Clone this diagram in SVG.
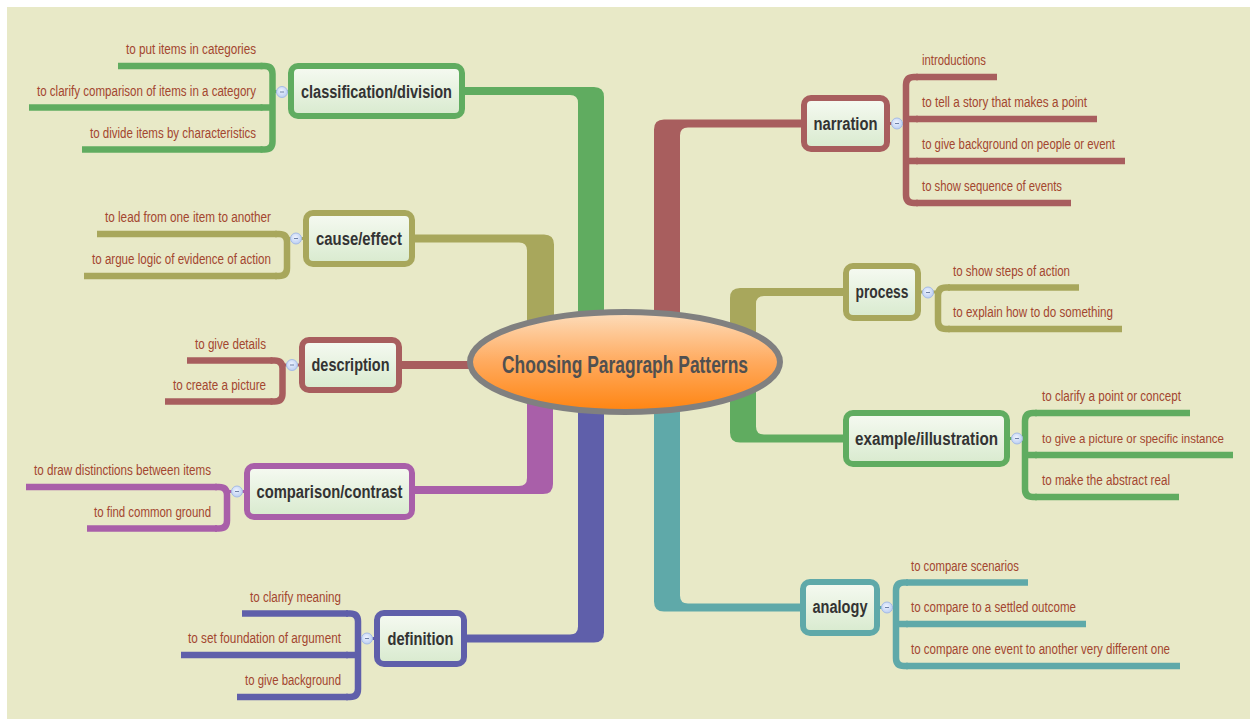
<svg xmlns="http://www.w3.org/2000/svg" width="1250" height="719" viewBox="0 0 1250 719">
<defs>
<linearGradient id="nodeFill" x1="0" y1="0" x2="0" y2="1"><stop offset="0" stop-color="#F6FAF2"/><stop offset="1" stop-color="#D8EACE"/></linearGradient>
<linearGradient id="centerFill" x1="0" y1="0" x2="0" y2="1"><stop offset="0" stop-color="#FDDDBC"/><stop offset="0.5" stop-color="#FFAA5E"/><stop offset="1" stop-color="#FF8410"/></linearGradient>
<radialGradient id="btnFill" cx="0.45" cy="0.4" r="0.6"><stop offset="0" stop-color="#EEF3FE"/><stop offset="1" stop-color="#BBCEF2"/></radialGradient>
</defs>
<style>
.sub{font-family:"Liberation Sans",Arial,sans-serif;font-size:14px;fill:#A3462F}
.end{text-anchor:end}
.lbl{font-family:"Liberation Sans",Arial,sans-serif;font-size:18px;font-weight:bold;fill:#333333;text-anchor:middle}
.box{fill:url(#nodeFill);stroke-width:6}
.ul{stroke-width:6.5;fill:none;stroke-linecap:butt}
.br{stroke-width:6.5;fill:none}
.lk{stroke-width:3}
.btn{fill:url(#btnFill);stroke:#A6BCE6;stroke-width:1}
.btnm{stroke:#6F82A8;stroke-width:1}
.gF{fill:#60AC60}.gS{stroke:#60AC60}
.rF{fill:#A85E5E}.rS{stroke:#A85E5E}
.oF{fill:#A8A75C}.oS{stroke:#A8A75C}
.pF{fill:#A95FA9}.pS{stroke:#A95FA9}
.iF{fill:#5F5FAA}.iS{stroke:#5F5FAA}
.tF{fill:#5FA9A9}.tS{stroke:#5FA9A9}
</style>
<rect x="0" y="0" width="1250" height="719" fill="#FFFFFF"/>
<rect x="7" y="7" width="1243" height="712" fill="#E8E9C7"/>

<g id="connectors">
<path class="gF" d="M 462 87 H 594 Q 604 87 604 97 V 340 H 578 V 103 Q 578 95 570 95 H 462 Z"/>
<path class="oF" d="M 412 234.5 H 544 Q 554 234.5 554 244.5 V 340 H 527 V 250.5 Q 527 242.5 519 242.5 H 412 Z"/>
<rect class="rF" x="399" y="361" width="85" height="8"/>
<path class="pF" d="M 412 486 H 519 Q 527 486 527 478 V 380 H 553 V 484 Q 553 494 543 494 H 412 Z"/>
<path class="iF" d="M 464 634.5 H 570 Q 578 634.5 578 626.5 V 380 H 604 V 632.5 Q 604 642.5 594 642.5 H 464 Z"/>
<path class="rF" d="M 806 119.5 H 664 Q 654 119.5 654 129.5 V 340 H 680 V 135.5 Q 680 127.5 688 127.5 H 806 Z"/>
<path class="oF" d="M 848 288 H 740 Q 730 288 730 298 V 345 H 756 V 304 Q 756 296 764 296 H 848 Z"/>
<path class="gF" d="M 848 434.5 H 764 Q 756 434.5 756 426.5 V 380 H 730 V 432.5 Q 730 442.5 740 442.5 H 848 Z"/>
<path class="tF" d="M 806 603.5 H 688 Q 680 603.5 680 595.5 V 380 H 654 V 601.5 Q 654 611.5 664 611.5 H 806 Z"/>

<path class="br gS" d="M 260.5 66 H 264.5 Q 272.5 66 272.5 74 V 141.5 Q 272.5 149.5 264.5 149.5 H 260.5 M 260.5 107.5 H 272.5"/>
<line class="lk gS" x1="272.5" y1="91.5" x2="292" y2="91.5"/>
<path class="br oS" d="M 275 234 H 279 Q 287 234 287 242 V 268 Q 287 276 279 276 H 275"/>
<line class="lk oS" x1="287" y1="238.5" x2="307" y2="238.5"/>
<path class="br rS" d="M 270.5 360.5 H 274.5 Q 282.5 360.5 282.5 368.5 V 393.5 Q 282.5 401.5 274.5 401.5 H 270.5"/>
<line class="lk rS" x1="282.5" y1="365" x2="303" y2="365"/>
<path class="br pS" d="M 215 487 H 219 Q 227 487 227 495 V 520.5 Q 227 528.5 219 528.5 H 215"/>
<line class="lk pS" x1="227" y1="491.5" x2="248" y2="491.5"/>
<path class="br iS" d="M 346 613.5 H 350 Q 358 613.5 358 621.5 V 689 Q 358 697 350 697 H 346 M 346 655 H 358"/>
<line class="lk iS" x1="358" y1="638.5" x2="378" y2="638.5"/>
<path class="br rS" d="M 918 77 H 914 Q 906 77 906 85 V 195 Q 906 203 914 203 H 918 M 906 119 H 918 M 906 161 H 918"/>
<line class="lk rS" x1="886" y1="123.5" x2="906" y2="123.5"/>
<path class="br oS" d="M 950 287.5 H 946 Q 938 287.5 938 295.5 V 321 Q 938 329 946 329 H 950"/>
<line class="lk oS" x1="917" y1="292" x2="938" y2="292"/>
<path class="br gS" d="M 1037 413 H 1033 Q 1025 413 1025 421 V 489 Q 1025 497 1033 497 H 1037 M 1025 455 H 1037"/>
<line class="lk gS" x1="1006" y1="438.5" x2="1025" y2="438.5"/>
<path class="br tS" d="M 908 582.5 H 904 Q 896 582.5 896 590.5 V 658 Q 896 666 904 666 H 908 M 896 624 H 908"/>
<line class="lk tS" x1="876" y1="607.5" x2="896" y2="607.5"/>
</g>

<g id="center">
<ellipse cx="625" cy="362" rx="155" ry="50" fill="url(#centerFill)" stroke="#808080" stroke-width="6"/>
<text x="625" y="372.5" text-anchor="middle" font-family="Liberation Sans, Arial, sans-serif" font-size="23" font-weight="bold" fill="#505050" textLength="246" lengthAdjust="spacingAndGlyphs">Choosing Paragraph Patterns</text>
</g>

<g id="classification">
<rect class="box gS" x="291" y="66" width="171" height="50" rx="7"/>
<text class="lbl" x="376.5" y="97.5" textLength="151" lengthAdjust="spacingAndGlyphs">classification/division</text>
<circle class="btn" cx="282" cy="92" r="5.5"/><line class="btnm" x1="280" y1="92" x2="284" y2="92"/>
</g>
<g id="cls-1"><line class="ul gS" x1="118" y1="66" x2="262.5" y2="66"/><text class="sub end" x="256" y="54" textLength="130" lengthAdjust="spacingAndGlyphs">to put items in categories</text></g>
<g id="cls-2"><line class="ul gS" x1="29" y1="107.5" x2="262.5" y2="107.5"/><text class="sub end" x="256" y="95.5" textLength="219" lengthAdjust="spacingAndGlyphs">to clarify comparison of items in a category</text></g>
<g id="cls-3"><line class="ul gS" x1="82" y1="149.5" x2="262.5" y2="149.5"/><text class="sub end" x="256" y="137.5" textLength="166" lengthAdjust="spacingAndGlyphs">to divide items by characteristics</text></g>

<g id="cause-effect">
<rect class="box oS" x="306" y="213" width="106" height="51" rx="7"/>
<text class="lbl" x="359" y="244.5" textLength="86" lengthAdjust="spacingAndGlyphs">cause/effect</text>
<circle class="btn" cx="296" cy="238.5" r="5.5"/><line class="btnm" x1="294" y1="238.5" x2="298" y2="238.5"/>
</g>
<g id="cau-1"><line class="ul oS" x1="97" y1="234" x2="277" y2="234"/><text class="sub end" x="271" y="222" textLength="166" lengthAdjust="spacingAndGlyphs">to lead from one item to another</text></g>
<g id="cau-2"><line class="ul oS" x1="84" y1="276" x2="277" y2="276"/><text class="sub end" x="271" y="264" textLength="179" lengthAdjust="spacingAndGlyphs">to argue logic of evidence of action</text></g>

<g id="description">
<rect class="box rS" x="302" y="340" width="97" height="50" rx="7"/>
<text class="lbl" x="350.5" y="371" textLength="78" lengthAdjust="spacingAndGlyphs">description</text>
<circle class="btn" cx="292" cy="365" r="5.5"/><line class="btnm" x1="290" y1="365" x2="294" y2="365"/>
</g>
<g id="des-1"><line class="ul rS" x1="187" y1="360.5" x2="272.5" y2="360.5"/><text class="sub end" x="266" y="348.5" textLength="71" lengthAdjust="spacingAndGlyphs">to give details</text></g>
<g id="des-2"><line class="ul rS" x1="165" y1="401.5" x2="272.5" y2="401.5"/><text class="sub end" x="266" y="389.5" textLength="93" lengthAdjust="spacingAndGlyphs">to create a picture</text></g>

<g id="comparison">
<rect class="box pS" x="247" y="466" width="165" height="51" rx="7"/>
<text class="lbl" x="329.5" y="497.5" textLength="146" lengthAdjust="spacingAndGlyphs">comparison/contrast</text>
<circle class="btn" cx="237" cy="491.5" r="5.5"/><line class="btnm" x1="235" y1="491.5" x2="239" y2="491.5"/>
</g>
<g id="cmp-1"><line class="ul pS" x1="26" y1="487" x2="217" y2="487"/><text class="sub end" x="211" y="475" textLength="177" lengthAdjust="spacingAndGlyphs">to draw distinctions between items</text></g>
<g id="cmp-2"><line class="ul pS" x1="87" y1="528.5" x2="217" y2="528.5"/><text class="sub end" x="211" y="516.5" textLength="117" lengthAdjust="spacingAndGlyphs">to find common ground</text></g>

<g id="definition">
<rect class="box iS" x="377" y="613" width="87" height="51" rx="7"/>
<text class="lbl" x="420.5" y="644.5" textLength="66" lengthAdjust="spacingAndGlyphs">definition</text>
<circle class="btn" cx="367" cy="638.5" r="5.5"/><line class="btnm" x1="365" y1="638.5" x2="369" y2="638.5"/>
</g>
<g id="def-1"><line class="ul iS" x1="242" y1="613.5" x2="348" y2="613.5"/><text class="sub end" x="341" y="601.5" textLength="91" lengthAdjust="spacingAndGlyphs">to clarify meaning</text></g>
<g id="def-2"><line class="ul iS" x1="181" y1="655" x2="348" y2="655"/><text class="sub end" x="341" y="643" textLength="153" lengthAdjust="spacingAndGlyphs">to set foundation of argument</text></g>
<g id="def-3"><line class="ul iS" x1="237" y1="697" x2="348" y2="697"/><text class="sub end" x="341" y="685" textLength="96" lengthAdjust="spacingAndGlyphs">to give background</text></g>

<g id="narration">
<rect class="box rS" x="804" y="98" width="83" height="51" rx="7"/>
<text class="lbl" x="845.5" y="129.5" textLength="64" lengthAdjust="spacingAndGlyphs">narration</text>
<circle class="btn" cx="897" cy="123.5" r="5.5"/><line class="btnm" x1="895" y1="123.5" x2="899" y2="123.5"/>
</g>
<g id="nar-1"><line class="ul rS" x1="916" y1="77" x2="997" y2="77"/><text class="sub" x="922" y="65" textLength="64" lengthAdjust="spacingAndGlyphs">introductions</text></g>
<g id="nar-2"><line class="ul rS" x1="916" y1="119" x2="1097" y2="119"/><text class="sub" x="922" y="107" textLength="165" lengthAdjust="spacingAndGlyphs">to tell a story that makes a point</text></g>
<g id="nar-3"><line class="ul rS" x1="916" y1="161" x2="1125" y2="161"/><text class="sub" x="922" y="149" textLength="193" lengthAdjust="spacingAndGlyphs">to give background on people or event</text></g>
<g id="nar-4"><line class="ul rS" x1="916" y1="203" x2="1071" y2="203"/><text class="sub" x="922" y="191" textLength="140" lengthAdjust="spacingAndGlyphs">to show sequence of events</text></g>

<g id="process">
<rect class="box oS" x="846" y="266" width="72" height="52" rx="7"/>
<text class="lbl" x="882" y="298" textLength="53" lengthAdjust="spacingAndGlyphs">process</text>
<circle class="btn" cx="928" cy="292.5" r="5.5"/><line class="btnm" x1="926" y1="292.5" x2="930" y2="292.5"/>
</g>
<g id="pro-1"><line class="ul oS" x1="948" y1="287.5" x2="1079" y2="287.5"/><text class="sub" x="953" y="275.5" textLength="117" lengthAdjust="spacingAndGlyphs">to show steps of action</text></g>
<g id="pro-2"><line class="ul oS" x1="948" y1="329" x2="1122" y2="329"/><text class="sub" x="953" y="317" textLength="160" lengthAdjust="spacingAndGlyphs">to explain how to do something</text></g>

<g id="example">
<rect class="box gS" x="846" y="413" width="161" height="51" rx="7"/>
<text class="lbl" x="926.5" y="444.5" textLength="143" lengthAdjust="spacingAndGlyphs">example/illustration</text>
<circle class="btn" cx="1017" cy="438.5" r="5.5"/><line class="btnm" x1="1015" y1="438.5" x2="1019" y2="438.5"/>
</g>
<g id="ex-1"><line class="ul gS" x1="1035" y1="413" x2="1190" y2="413"/><text class="sub" x="1042" y="401" textLength="139" lengthAdjust="spacingAndGlyphs">to clarify a point or concept</text></g>
<g id="ex-2"><line class="ul gS" x1="1035" y1="455" x2="1233" y2="455"/><text class="sub" x="1042" y="443" font-size="13" textLength="182" lengthAdjust="spacingAndGlyphs" style="font-size:13px">to give a picture or specific instance</text></g>
<g id="ex-3"><line class="ul gS" x1="1035" y1="497" x2="1179" y2="497"/><text class="sub" x="1042" y="485" textLength="128" lengthAdjust="spacingAndGlyphs">to make the abstract real</text></g>

<g id="analogy">
<rect class="box tS" x="803" y="582" width="74" height="51" rx="7"/>
<text class="lbl" x="840" y="612.5" textLength="55" lengthAdjust="spacingAndGlyphs">analogy</text>
<circle class="btn" cx="887" cy="607.5" r="5.5"/><line class="btnm" x1="885" y1="607.5" x2="889" y2="607.5"/>
</g>
<g id="ana-1"><line class="ul tS" x1="906" y1="582.5" x2="1028" y2="582.5"/><text class="sub" x="911" y="570.5" textLength="108" lengthAdjust="spacingAndGlyphs">to compare scenarios</text></g>
<g id="ana-2"><line class="ul tS" x1="906" y1="624" x2="1086" y2="624"/><text class="sub" x="911" y="612" textLength="165" lengthAdjust="spacingAndGlyphs">to compare to a settled outcome</text></g>
<g id="ana-3"><line class="ul tS" x1="906" y1="666" x2="1180" y2="666"/><text class="sub" x="911" y="654" textLength="259" lengthAdjust="spacingAndGlyphs">to compare one event to another very different one</text></g>
</svg>
